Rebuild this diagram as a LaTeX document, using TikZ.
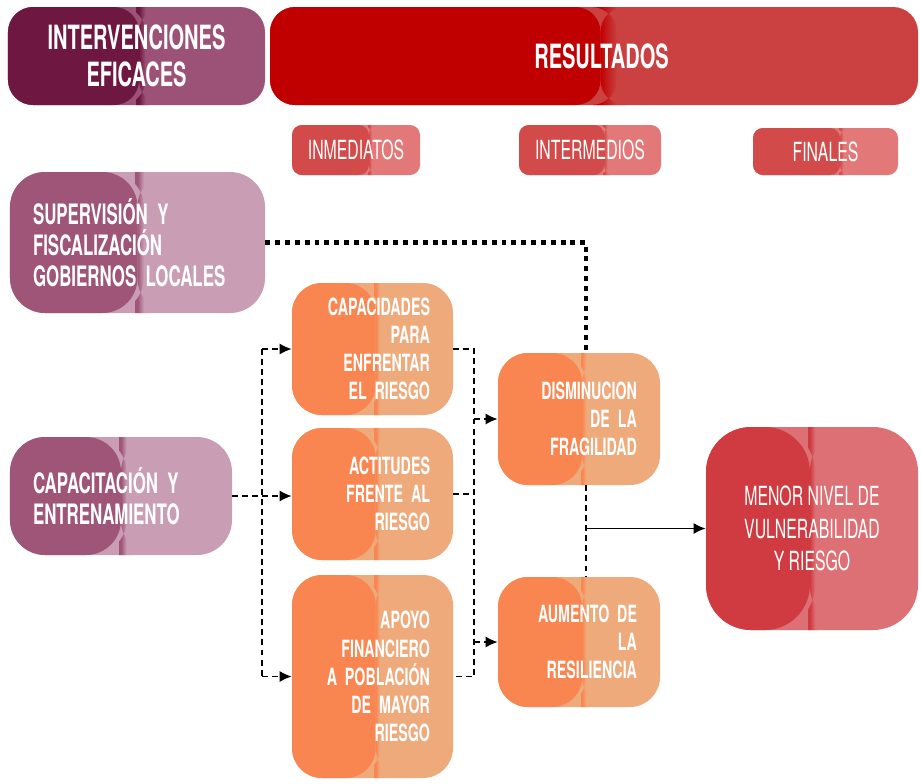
\documentclass[tikz,border=0pt]{standalone}
\usepackage{fontspec}
\setmainfont{TeX Gyre Heros}[FakeStretch=0.6]
\usepackage{tikz}
\usetikzlibrary{calc,arrows.meta}
\usepackage{xcolor}

\definecolor{vinoA}{HTML}{6E1740}
\definecolor{vinoB}{HTML}{9C5277}
\definecolor{rojoA}{HTML}{C00000}
\definecolor{rojoB}{HTML}{CB4040}
\definecolor{subA}{HTML}{D24A4A}
\definecolor{subB}{HTML}{E27878}
\definecolor{malvaA}{HTML}{9E5578}
\definecolor{malvaB}{HTML}{C99DB3}
\definecolor{naranjaA}{HTML}{F98650}
\definecolor{naranjaB}{HTML}{EFAA7C}
\definecolor{finA}{HTML}{CF3B40}
\definecolor{finB}{HTML}{DD7075}

\tikzset{
  bicolor/.style n args={3}{fill=#2, path picture={
      \fill[#1] (path picture bounding box.south west) rectangle
        ($(path picture bounding box.north west)!#3!(path picture bounding box.north east)$);
      \shade[left color=#1,right color=#2]
        ($(path picture bounding box.south west)!#3!(path picture bounding box.south east)$) rectangle
        ($(path picture bounding box.north west)!#3+0.025!(path picture bounding box.north east)$);
  }},
  caja/.style={rounded corners=#1, text=white, inner sep=0pt},
  titulo/.style={caja=0.5cm, align=center, minimum height=1.96cm, font=\fontsize{19}{21}\selectfont\bfseries},
  nivel/.style={caja=0.2cm, bicolor={subA}{subB}{0.6}, align=center, minimum height=1cm, font=\fontsize{15}{16}\selectfont},
  accion/.style={caja=0.7cm, bicolor={malvaA}{malvaB}{0.5}, align=left, inner xsep=0.46cm, font=\fontsize{16}{17.6}\selectfont\bfseries},
  efecto/.style={caja=0.6cm, bicolor={naranjaA}{naranjaB}{0.52}, align=right, text width=2.3cm, inner xsep=0.46cm, minimum height=2.64cm, font=\fontsize{13.5}{16}\selectfont\bfseries},
  guiones/.style={line width=0.8pt, dash pattern=on 3.4pt off 2.3pt},
  puntos/.style={line width=2.8pt, dash pattern=on 2.8pt off 2.8pt},
  flecha/.style={-{Latex[length=2.4mm,width=2.2mm]}},
}

\begin{document}
\begin{tikzpicture}
\useasboundingbox (0,0) rectangle (18.42,-15.66);

% En-têtes
\node (interv) at (2.73,-1.12) [titulo, bicolor={vinoA}{vinoB}{0.51}, minimum width=5.14cm] {INTERVENCIONES\\EFICACES};
\node (result) at (11.88,-1.12) [titulo, bicolor={rojoA}{rojoB}{0.51}, minimum width=12.96cm] {\hspace*{0.3cm}RESULTADOS};
\node (inmed) at (7.12,-3.0) [nivel, minimum width=2.56cm] {INMEDIATOS};
\node (interm) at (11.8,-3.0) [nivel, minimum width=2.84cm] {INTERMEDIOS};
\node (finales) at (16.51,-3.03) [nivel, minimum width=2.9cm, minimum height=0.94cm] {FINALES};

% Interventions
\node (superv) at (2.75,-4.85) [accion, text width=4.18cm, minimum height=2.82cm] {SUPERVISIÓN Y\\FISCALIZACIÓN\\GOBIERNOS LOCALES};
\node (capac) at (2.42,-9.92) [accion, text width=3.52cm, minimum height=2.36cm] {CAPACITACIÓN Y\\ENTRENAMIENTO};

% Résultats immédiats
\node (capa) at (7.45,-6.98) [efecto] {CAPACIDADES\\PARA\\ENFRENTAR\\EL RIESGO};
\node (actit) at (7.45,-9.88) [efecto] {ACTITUDES\\FRENTE AL\\RIESGO};
\node (apoyo) at (7.45,-13.53) [efecto, minimum height=4.06cm] {APOYO\\FINANCIERO\\A POBLACIÓN\\DE MAYOR\\RIESGO};

% Résultats intermédiaires
\node (dismin) at (11.58,-8.38) [efecto, text width=2.32cm] {DISMINUCION\\DE LA\\FRAGILIDAD};
\node (aument) at (11.58,-12.84) [efecto, text width=2.32cm, minimum height=2.6cm] {AUMENTO DE\\LA\\RESILIENCIA};

% Résultat final
\node (menor) at (16.24,-10.57) [caja=0.9cm, bicolor={finA}{finB}{0.49}, align=center, minimum width=4.24cm, minimum height=4.06cm, font=\fontsize{15}{18.7}\selectfont] {MENOR NIVEL DE\\VULNERABILIDAD\\Y RIESGO};

% Liaisons
\coordinate (lbus) at (5.24,0);
\coordinate (rbus) at (9.48,0);
\coordinate (cbus) at (11.72,0);

\draw[puntos] (superv.east) -| (cbus |- dismin.north);

\draw[guiones, flecha] (capac.east) -- (capac.east -| actit.west);
\draw[guiones] (lbus |- capa.west) -- (lbus |- apoyo.west);
\draw[guiones, flecha] (lbus |- capa.west) -- (capa.west);
\draw[guiones, flecha] (lbus |- apoyo.west) -- (apoyo.west);

\draw[guiones] (capa.east) -- (rbus |- capa.east) -- (rbus |- apoyo.east) -- (apoyo.east);
\draw[guiones] (actit.east) -- (rbus |- actit.east);
\draw[guiones, flecha] (rbus |- dismin.west) -- (dismin.west);
\draw[guiones, flecha] (rbus |- aument.west) -- (aument.west);

\draw[guiones] (cbus |- dismin.south) -- (cbus |- aument.north);
\draw[line width=0.8pt, flecha] (cbus |- menor.west) -- (menor.west);
\end{tikzpicture}
\end{document}
